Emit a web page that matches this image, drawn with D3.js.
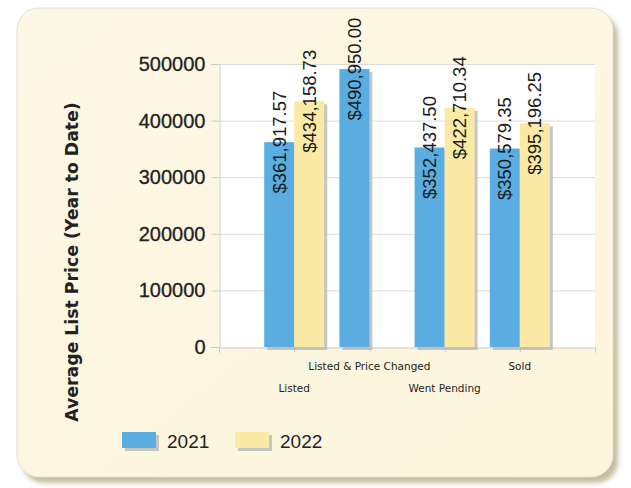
<!DOCTYPE html>
<html>
<head>
<meta charset="utf-8">
<script src="https://cdn.jsdelivr.net/npm/d3@7"></script>
<style>
  html, body { margin: 0; padding: 0; background: #ffffff; }
  svg { display: block; }
</style>
</head>
<body>
<svg id="chart" width="631" height="488"></svg>
<script>
const categories = ["Listed", "Listed & Price Changed", "Went Pending", "Sold"];
const series2021 = [361917.57, 490950.00, 352437.50, 350579.35];
const series2022 = [434158.73, null, 422710.34, 395196.25];
const seriesNames = ["2021", "2022"];
const yTicks = [0, 100000, 200000, 300000, 400000, 500000];
const yTitle = "Average List Price (Year to Date)";

const colors = { "2021": "#5aade0", "2022": "#fbeaa6" };

const svg = d3.select("#chart");
const defs = svg.append("defs");

const blur = defs.append("filter").attr("id", "panelShadow")
  .attr("x", "-5%").attr("y", "-5%").attr("width", "115%").attr("height", "115%");
blur.append("feGaussianBlur").attr("stdDeviation", 2.5);

const grad = defs.append("linearGradient").attr("id", "panelFill")
  .attr("x1", "0").attr("y1", "0").attr("x2", "1").attr("y2", "1");
grad.append("stop").attr("offset", "0%").attr("stop-color", "#fdf8e6");
grad.append("stop").attr("offset", "100%").attr("stop-color", "#fdf5db");

// panel
const panel = { x: 17, y: 8, w: 596, h: 469, r: 22 };
svg.append("rect")
  .attr("x", panel.x + 5).attr("y", panel.y + 6)
  .attr("width", panel.w).attr("height", panel.h)
  .attr("rx", panel.r)
  .attr("fill", "#c5bc9e")
  .attr("filter", "url(#panelShadow)");
svg.append("rect")
  .attr("x", panel.x).attr("y", panel.y)
  .attr("width", panel.w).attr("height", panel.h)
  .attr("rx", panel.r)
  .attr("fill", "url(#panelFill)")
  .attr("stroke", "#e4e0d4").attr("stroke-width", 1);

// scales
const plot = { left: 219, right: 595, top: 64, bottom: 347 };
const y = d3.scaleLinear().domain([0, 500000]).range([plot.bottom, plot.top]);
const x = d3.scaleLinear().domain([0, categories.length + 1]).range([plot.left, plot.right]);
const barW = 30;

// plot background
svg.append("rect")
  .attr("x", plot.left).attr("y", plot.top)
  .attr("width", plot.right - plot.left).attr("height", plot.bottom - plot.top)
  .attr("fill", "#ffffff");

// gridlines
svg.append("g").selectAll("line").data(yTicks.filter(d => d > 0)).join("line")
  .attr("x1", plot.left).attr("x2", plot.right)
  .attr("y1", d => y(d) + 0.5).attr("y2", d => y(d) + 0.5)
  .attr("stroke", "#dcdcdc").attr("stroke-width", 1);

// y axis
const yAxis = d3.axisLeft(y).tickValues(yTicks).tickSize(8).tickPadding(6).tickFormat(d3.format("d"));
const gy = svg.append("g").attr("transform", `translate(${plot.left + 0.5},0)`).call(yAxis);
gy.select(".domain").attr("stroke", "#cccccc");
gy.selectAll(".tick line").attr("stroke", "#cccccc");
gy.selectAll(".tick text")
  .attr("font-family", "'Liberation Sans', Arial, sans-serif")
  .attr("font-size", 20).attr("fill", "#222222")
  .attr("stroke", "#222222").attr("stroke-width", 0.3);

// x axis (ticks only, no labels)
const xAxis = d3.axisBottom(x).tickValues(d3.range(0, categories.length + 2)).tickSize(5).tickFormat("");
const gx = svg.append("g").attr("transform", `translate(0,${plot.bottom + 0.5})`).call(xAxis);
gx.select(".domain").attr("stroke", "#cccccc");
gx.selectAll(".tick line").attr("stroke", "#cccccc");

// category labels (staggered)
svg.append("g").selectAll("text").data(categories).join("text")
  .attr("x", (d, i) => x(i + 1))
  .attr("y", (d, i) => i % 2 === 0 ? 392 : 370)
  .attr("text-anchor", "middle")
  .attr("font-family", "'DejaVu Sans', Verdana, sans-serif")
  .attr("font-size", 10.5)
  .attr("fill", "#222222")
  .text(d => d);

// bars
const barData = [];
categories.forEach((c, i) => {
  if (series2021[i] != null) barData.push({ cat: i, s: "2021", v: series2021[i], off: -barW });
  if (series2022[i] != null) barData.push({ cat: i, s: "2022", v: series2022[i], off: 0 });
});

const gb = svg.append("g");
gb.selectAll("rect.shadow").data(barData).join("rect")
  .attr("class", "shadow")
  .attr("x", d => x(d.cat + 1) + d.off + 3)
  .attr("y", d => y(d.v) + 3)
  .attr("width", barW)
  .attr("height", d => y(0) - y(d.v))
  .attr("fill", "#b8b8b8").attr("opacity", 0.8);
gb.selectAll("rect.bar").data(barData).join("rect")
  .attr("class", "bar")
  .attr("x", d => x(d.cat + 1) + d.off)
  .attr("y", d => y(d.v))
  .attr("width", barW)
  .attr("height", d => y(0) - y(d.v))
  .attr("fill", d => colors[d.s]);

// value labels
const fmt = d3.format("$,.2f");
svg.append("g").selectAll("text").data(barData).join("text")
  .attr("transform", d => `translate(${x(d.cat + 1) + d.off + barW / 2},${y(d.v)}) rotate(-90)`)
  .attr("text-anchor", "middle")
  .attr("dy", "0.35em")
  .attr("font-family", "'Liberation Sans', Arial, sans-serif")
  .attr("font-size", 18.5)
  .attr("fill", "#1a1a1a")
  .text(d => fmt(d.v));

// y title
svg.append("text")
  .attr("transform", `translate(78,262) rotate(-90)`)
  .attr("text-anchor", "middle")
  .attr("font-family", "'DejaVu Sans', Verdana, sans-serif")
  .attr("font-weight", "bold")
  .attr("font-size", 17.3)
  .attr("fill", "#222222")
  .text(yTitle);

// legend
const legendX = [122, 235];
const lg = svg.append("g").selectAll("g").data(seriesNames).join("g")
  .attr("transform", (d, i) => `translate(${legendX[i]},432)`);
lg.append("rect").attr("x", 3).attr("y", 3).attr("width", 34).attr("height", 16)
  .attr("fill", "#b8b8b8").attr("opacity", 0.8);
lg.append("rect").attr("width", 34).attr("height", 16).attr("fill", d => colors[d]);
lg.append("text")
  .attr("x", 45).attr("y", 16)
  .attr("font-family", "'Liberation Sans', Arial, sans-serif")
  .attr("font-size", 19)
  .attr("fill", "#222222")
  .text(d => d);
</script>
</body>
</html>
